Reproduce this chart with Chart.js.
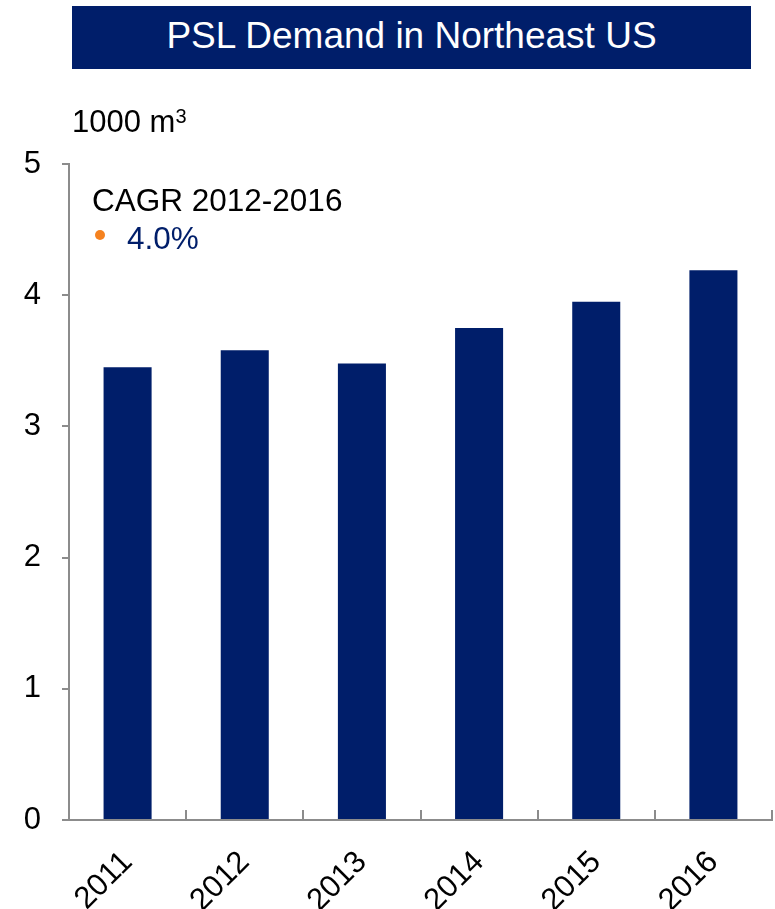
<!DOCTYPE html>
<html>
<head>
<meta charset="utf-8">
<script src="https://cdn.jsdelivr.net/npm/chart.js@4/dist/chart.umd.min.js"></script>
<style>
  html, body { margin: 0; padding: 0; background: #fff; }
  body { width: 775px; height: 909px; position: relative; overflow: hidden;
         font-family: "Liberation Sans", Arial, sans-serif; }
  #wrap { position: absolute; left: 0; top: 0; width: 775px; height: 909px; }
  .t { position: absolute; white-space: nowrap; }
  #title { left: 72px; top: 6px; width: 679px; height: 63px; background: #001E6A;
           color: #fff; font-size: 37px; line-height: 37px; text-align: center; }
  #title span { position: relative; top: 11px; }
</style>
</head>
<body>
<div id="wrap"><canvas id="c" width="775" height="909"></canvas></div>
<div id="title" class="t"><span>PSL Demand in Northeast US</span></div>
<div class="t" style="left:72px; top:106px; font-size:31px; line-height:31px; color:#000;">1000 m<span style="font-size:20px; position:relative; top:-9px;">3</span></div>
<div class="t" style="left:92px; top:185px; font-size:31.5px; line-height:31.5px; color:#000;">CAGR 2012-2016</div>
<div class="t" style="left:95px; top:230px; width:10px; height:10px; border-radius:50%; background:#F5821F;"></div>
<div class="t" style="left:127px; top:223px; font-size:31.5px; line-height:31.5px; color:#001E6A;">4.0%</div>
<script>
const categories = ["2011", "2012", "2013", "2014", "2015", "2016"];
const demand = [3.45, 3.58, 3.48, 3.75, 3.95, 4.19];
const yTicks = [0, 1, 2, 3, 4, 5];

const NAVY = "#001E6A";
const AXIS = "#8C8C8C";
const FONT = "'Liberation Sans', Arial, sans-serif";

const innerTicks = {
  id: "innerTicks",
  afterDatasetsDraw(chart) {
    const x = chart.scales.x, ctx = chart.ctx;
    const bottom = chart.chartArea.bottom;
    ctx.save();
    ctx.strokeStyle = AXIS;
    ctx.lineWidth = 2;
    for (let i = 0; i <= categories.length; i++) {
      const px = Math.round(x.getPixelForValue(i - 0.5));
      ctx.beginPath();
      ctx.moveTo(px, bottom);
      ctx.lineTo(px, bottom - 10);
      ctx.stroke();
    }
    ctx.restore();
  }
};

new Chart(document.getElementById("c"), {
  type: "bar",
  data: {
    labels: categories,
    datasets: [{
      data: demand,
      backgroundColor: NAVY,
      borderWidth: 0,
      barPercentage: 0.41,
      categoryPercentage: 1.0
    }]
  },
  options: {
    responsive: false,
    animation: false,
    events: [],
    layout: { padding: { top: 164, right: 3, left: 0, bottom: 0 } },
    plugins: { legend: { display: false }, tooltip: { enabled: false }, title: { display: false } },
    scales: {
      x: {
        afterFit(s) { s.height = 89; },
        grid: { display: false, drawTicks: false },
        border: { display: true, color: AXIS, width: 2 },
        ticks: {
          color: "#000", font: { family: FONT, size: 31 },
          minRotation: 45, maxRotation: 45, autoSkip: false, padding: 24
        }
      },
      y: {
        min: 0, max: 5,
        afterFit(s) { s.width = 69; },
        afterBuildTicks(s) { s.ticks = yTicks.map(v => ({ value: v })); },
        grid: { drawOnChartArea: false, drawTicks: true, tickLength: 7, color: AXIS, lineWidth: 2 },
        border: { display: true, color: AXIS, width: 2 },
        ticks: { color: "#000", font: { family: FONT, size: 31 }, padding: 21 }
      }
    }
  },
  plugins: [innerTicks]
});
</script>
</body>
</html>
